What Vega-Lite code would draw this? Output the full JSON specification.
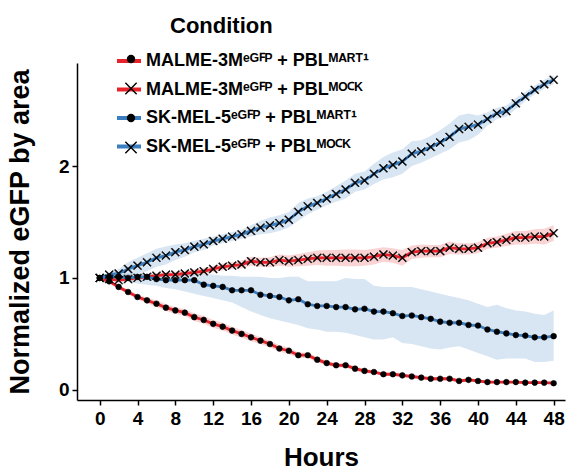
{
  "$schema": "https://vega.github.io/schema/vega-lite/v6.json",
  "width": 488,
  "height": 337,
  "autosize": {"type": "none"},
  "padding": {"left": 77, "top": 63, "right": 8, "bottom": 70},
  "background": "white",
  "config": {
    "font": "Liberation Sans",
    "view": {"stroke": null},
    "axis": {
      "domainColor": "black", "domainWidth": 1.5, "tickColor": "black", "tickWidth": 1.5, "tickSize": 5,
      "labelFont": "Liberation Sans", "labelFontWeight": "bold", "labelFontSize": 19, "labelColor": "black",
      "titleFont": "Liberation Sans", "titleFontWeight": "bold", "titleFontSize": 26, "titleColor": "black",
      "grid": false
    }
  },
  "datasets": {
    "conds": [
      {"id": "A", "g": "malme-mart1", "c": "MALME-3M\u1d49\u1d33\ua7f3\u1d3e + PBL\u1d39\u1d2c\u1d3f\u1d40\u00b9"},
      {"id": "B", "g": "malme-mock", "c": "MALME-3M\u1d49\u1d33\ua7f3\u1d3e + PBL\u1d39\u1d3c\ua7f2\u1d37"},
      {"id": "C", "g": "skmel-mart1", "c": "SK-MEL-5\u1d49\u1d33\ua7f3\u1d3e + PBL\u1d39\u1d2c\u1d3f\u1d40\u00b9"},
      {"id": "D", "g": "skmel-mock", "c": "SK-MEL-5\u1d49\u1d33\ua7f3\u1d3e + PBL\u1d39\u1d3c\ua7f2\u1d37"}
    ],
    "series": [
      {"id":"A","h":0,"v":1,"lo":1,"hi":1},
      {"id":"A","h":1,"v":0.97,"lo":0.96,"hi":0.98},
      {"id":"A","h":2,"v":0.92,"lo":0.9,"hi":0.94},
      {"id":"A","h":3,"v":0.875,"lo":0.855,"hi":0.895},
      {"id":"A","h":4,"v":0.83,"lo":0.81,"hi":0.85},
      {"id":"A","h":5,"v":0.8,"lo":0.775,"hi":0.825},
      {"id":"A","h":6,"v":0.77,"lo":0.74,"hi":0.8},
      {"id":"A","h":7,"v":0.735,"lo":0.705,"hi":0.765},
      {"id":"A","h":8,"v":0.71,"lo":0.68,"hi":0.74},
      {"id":"A","h":9,"v":0.69,"lo":0.66,"hi":0.72},
      {"id":"A","h":10,"v":0.65,"lo":0.615,"hi":0.685},
      {"id":"A","h":11,"v":0.625,"lo":0.59,"hi":0.66},
      {"id":"A","h":12,"v":0.59,"lo":0.555,"hi":0.625},
      {"id":"A","h":13,"v":0.565,"lo":0.53,"hi":0.6},
      {"id":"A","h":14,"v":0.53,"lo":0.495,"hi":0.565},
      {"id":"A","h":15,"v":0.5,"lo":0.465,"hi":0.535},
      {"id":"A","h":16,"v":0.47,"lo":0.435,"hi":0.505},
      {"id":"A","h":17,"v":0.44,"lo":0.41,"hi":0.47},
      {"id":"A","h":18,"v":0.41,"lo":0.38,"hi":0.44},
      {"id":"A","h":19,"v":0.37,"lo":0.34,"hi":0.4},
      {"id":"A","h":20,"v":0.35,"lo":0.32,"hi":0.38},
      {"id":"A","h":21,"v":0.31,"lo":0.285,"hi":0.335},
      {"id":"A","h":22,"v":0.31,"lo":0.285,"hi":0.335},
      {"id":"A","h":23,"v":0.27,"lo":0.245,"hi":0.295},
      {"id":"A","h":24,"v":0.24,"lo":0.22,"hi":0.26},
      {"id":"A","h":25,"v":0.22,"lo":0.2,"hi":0.24},
      {"id":"A","h":26,"v":0.22,"lo":0.2,"hi":0.24},
      {"id":"A","h":27,"v":0.19,"lo":0.17,"hi":0.21},
      {"id":"A","h":28,"v":0.17,"lo":0.15,"hi":0.19},
      {"id":"A","h":29,"v":0.16,"lo":0.145,"hi":0.175},
      {"id":"A","h":30,"v":0.14,"lo":0.125,"hi":0.155},
      {"id":"A","h":31,"v":0.14,"lo":0.125,"hi":0.155},
      {"id":"A","h":32,"v":0.13,"lo":0.115,"hi":0.145},
      {"id":"A","h":33,"v":0.12,"lo":0.105,"hi":0.135},
      {"id":"A","h":34,"v":0.11,"lo":0.095,"hi":0.125},
      {"id":"A","h":35,"v":0.1,"lo":0.085,"hi":0.115},
      {"id":"A","h":36,"v":0.1,"lo":0.085,"hi":0.115},
      {"id":"A","h":37,"v":0.1,"lo":0.085,"hi":0.115},
      {"id":"A","h":38,"v":0.08,"lo":0.065,"hi":0.095},
      {"id":"A","h":39,"v":0.09,"lo":0.075,"hi":0.105},
      {"id":"A","h":40,"v":0.08,"lo":0.065,"hi":0.095},
      {"id":"A","h":41,"v":0.07,"lo":0.06,"hi":0.08},
      {"id":"A","h":42,"v":0.07,"lo":0.06,"hi":0.08},
      {"id":"A","h":43,"v":0.07,"lo":0.06,"hi":0.08},
      {"id":"A","h":44,"v":0.07,"lo":0.06,"hi":0.08},
      {"id":"A","h":45,"v":0.065,"lo":0.055,"hi":0.075},
      {"id":"A","h":46,"v":0.065,"lo":0.055,"hi":0.075},
      {"id":"A","h":47,"v":0.065,"lo":0.055,"hi":0.075},
      {"id":"A","h":48,"v":0.06,"lo":0.05,"hi":0.07},
      {"id":"B","h":0,"v":1,"lo":1,"hi":1},
      {"id":"B","h":1,"v":0.99,"lo":0.975,"hi":1.005},
      {"id":"B","h":2,"v":0.98,"lo":0.96,"hi":1.0},
      {"id":"B","h":3,"v":0.99,"lo":0.97,"hi":1.01},
      {"id":"B","h":4,"v":1.0,"lo":0.98,"hi":1.02},
      {"id":"B","h":5,"v":1.01,"lo":0.99,"hi":1.03},
      {"id":"B","h":6,"v":1.02,"lo":1.0,"hi":1.04},
      {"id":"B","h":7,"v":1.03,"lo":1.01,"hi":1.05},
      {"id":"B","h":8,"v":1.03,"lo":1.005,"hi":1.055},
      {"id":"B","h":9,"v":1.04,"lo":1.015,"hi":1.065},
      {"id":"B","h":10,"v":1.05,"lo":1.025,"hi":1.075},
      {"id":"B","h":11,"v":1.06,"lo":1.03,"hi":1.09},
      {"id":"B","h":12,"v":1.08,"lo":1.05,"hi":1.11},
      {"id":"B","h":13,"v":1.1,"lo":1.07,"hi":1.13},
      {"id":"B","h":14,"v":1.11,"lo":1.08,"hi":1.14},
      {"id":"B","h":15,"v":1.12,"lo":1.085,"hi":1.155},
      {"id":"B","h":16,"v":1.15,"lo":1.11,"hi":1.19},
      {"id":"B","h":17,"v":1.14,"lo":1.1,"hi":1.18},
      {"id":"B","h":18,"v":1.14,"lo":1.095,"hi":1.185},
      {"id":"B","h":19,"v":1.16,"lo":1.11,"hi":1.21},
      {"id":"B","h":20,"v":1.15,"lo":1.1,"hi":1.2},
      {"id":"B","h":21,"v":1.16,"lo":1.105,"hi":1.215},
      {"id":"B","h":22,"v":1.17,"lo":1.11,"hi":1.23},
      {"id":"B","h":23,"v":1.18,"lo":1.115,"hi":1.245},
      {"id":"B","h":24,"v":1.18,"lo":1.11,"hi":1.25},
      {"id":"B","h":25,"v":1.18,"lo":1.11,"hi":1.25},
      {"id":"B","h":26,"v":1.18,"lo":1.105,"hi":1.255},
      {"id":"B","h":27,"v":1.18,"lo":1.105,"hi":1.255},
      {"id":"B","h":28,"v":1.18,"lo":1.11,"hi":1.25},
      {"id":"B","h":29,"v":1.19,"lo":1.12,"hi":1.26},
      {"id":"B","h":30,"v":1.21,"lo":1.145,"hi":1.275},
      {"id":"B","h":31,"v":1.2,"lo":1.135,"hi":1.265},
      {"id":"B","h":32,"v":1.18,"lo":1.11,"hi":1.25},
      {"id":"B","h":33,"v":1.23,"lo":1.17,"hi":1.29},
      {"id":"B","h":34,"v":1.24,"lo":1.18,"hi":1.3},
      {"id":"B","h":35,"v":1.24,"lo":1.185,"hi":1.295},
      {"id":"B","h":36,"v":1.24,"lo":1.185,"hi":1.295},
      {"id":"B","h":37,"v":1.27,"lo":1.215,"hi":1.325},
      {"id":"B","h":38,"v":1.26,"lo":1.21,"hi":1.31},
      {"id":"B","h":39,"v":1.26,"lo":1.21,"hi":1.31},
      {"id":"B","h":40,"v":1.27,"lo":1.22,"hi":1.32},
      {"id":"B","h":41,"v":1.31,"lo":1.26,"hi":1.36},
      {"id":"B","h":42,"v":1.32,"lo":1.27,"hi":1.37},
      {"id":"B","h":43,"v":1.34,"lo":1.285,"hi":1.395},
      {"id":"B","h":44,"v":1.36,"lo":1.3,"hi":1.42},
      {"id":"B","h":45,"v":1.36,"lo":1.3,"hi":1.42},
      {"id":"B","h":46,"v":1.37,"lo":1.305,"hi":1.435},
      {"id":"B","h":47,"v":1.37,"lo":1.3,"hi":1.44},
      {"id":"B","h":48,"v":1.4,"lo":1.33,"hi":1.47},
      {"id":"C","h":0,"v":1,"lo":1,"hi":1},
      {"id":"C","h":1,"v":1.01,"lo":0.99,"hi":1.02},
      {"id":"C","h":2,"v":1.01,"lo":0.98,"hi":1.03},
      {"id":"C","h":3,"v":1.0,"lo":0.97,"hi":1.04},
      {"id":"C","h":4,"v":1.01,"lo":0.95,"hi":1.04},
      {"id":"C","h":5,"v":1.01,"lo":0.94,"hi":1.04},
      {"id":"C","h":6,"v":0.99,"lo":0.93,"hi":1.04},
      {"id":"C","h":7,"v":0.98,"lo":0.91,"hi":1.04},
      {"id":"C","h":8,"v":0.98,"lo":0.9,"hi":1.04},
      {"id":"C","h":9,"v":0.98,"lo":0.88,"hi":1.04},
      {"id":"C","h":10,"v":0.98,"lo":0.86,"hi":1.04},
      {"id":"C","h":11,"v":0.94,"lo":0.84,"hi":1.03},
      {"id":"C","h":12,"v":0.93,"lo":0.82,"hi":1.03},
      {"id":"C","h":13,"v":0.92,"lo":0.8,"hi":1.02},
      {"id":"C","h":14,"v":0.89,"lo":0.78,"hi":1.02},
      {"id":"C","h":15,"v":0.89,"lo":0.74,"hi":1.01},
      {"id":"C","h":16,"v":0.89,"lo":0.7,"hi":1.01},
      {"id":"C","h":17,"v":0.85,"lo":0.67,"hi":1.01},
      {"id":"C","h":18,"v":0.84,"lo":0.64,"hi":1.0},
      {"id":"C","h":19,"v":0.83,"lo":0.62,"hi":1.0},
      {"id":"C","h":20,"v":0.8,"lo":0.6,"hi":1.01},
      {"id":"C","h":21,"v":0.81,"lo":0.58,"hi":1.01},
      {"id":"C","h":22,"v":0.765,"lo":0.55,"hi":0.97},
      {"id":"C","h":23,"v":0.75,"lo":0.54,"hi":0.97},
      {"id":"C","h":24,"v":0.75,"lo":0.52,"hi":0.97},
      {"id":"C","h":25,"v":0.74,"lo":0.52,"hi":0.97},
      {"id":"C","h":26,"v":0.74,"lo":0.51,"hi":1.0},
      {"id":"C","h":27,"v":0.72,"lo":0.49,"hi":0.99},
      {"id":"C","h":28,"v":0.725,"lo":0.47,"hi":0.99},
      {"id":"C","h":29,"v":0.7,"lo":0.45,"hi":0.93},
      {"id":"C","h":30,"v":0.7,"lo":0.45,"hi":0.92},
      {"id":"C","h":31,"v":0.685,"lo":0.47,"hi":0.92},
      {"id":"C","h":32,"v":0.66,"lo":0.42,"hi":0.92},
      {"id":"C","h":33,"v":0.665,"lo":0.41,"hi":0.92},
      {"id":"C","h":34,"v":0.65,"lo":0.39,"hi":0.9},
      {"id":"C","h":35,"v":0.635,"lo":0.37,"hi":0.88},
      {"id":"C","h":36,"v":0.61,"lo":0.36,"hi":0.86},
      {"id":"C","h":37,"v":0.6,"lo":0.38,"hi":0.84},
      {"id":"C","h":38,"v":0.6,"lo":0.39,"hi":0.82},
      {"id":"C","h":39,"v":0.58,"lo":0.36,"hi":0.8},
      {"id":"C","h":40,"v":0.575,"lo":0.33,"hi":0.77},
      {"id":"C","h":41,"v":0.54,"lo":0.3,"hi":0.74},
      {"id":"C","h":42,"v":0.52,"lo":0.27,"hi":0.76},
      {"id":"C","h":43,"v":0.505,"lo":0.28,"hi":0.73},
      {"id":"C","h":44,"v":0.49,"lo":0.28,"hi":0.71},
      {"id":"C","h":45,"v":0.485,"lo":0.28,"hi":0.7},
      {"id":"C","h":46,"v":0.47,"lo":0.25,"hi":0.68},
      {"id":"C","h":47,"v":0.47,"lo":0.25,"hi":0.67},
      {"id":"C","h":48,"v":0.48,"lo":0.26,"hi":0.71},
      {"id":"D","h":0,"v":1,"lo":1,"hi":1},
      {"id":"D","h":1,"v":1.03,"lo":1.01,"hi":1.05},
      {"id":"D","h":2,"v":1.04,"lo":1.0,"hi":1.08},
      {"id":"D","h":3,"v":1.08,"lo":1.02,"hi":1.14},
      {"id":"D","h":4,"v":1.11,"lo":1.04,"hi":1.18},
      {"id":"D","h":5,"v":1.14,"lo":1.06,"hi":1.22},
      {"id":"D","h":6,"v":1.18,"lo":1.1,"hi":1.26},
      {"id":"D","h":7,"v":1.2,"lo":1.12,"hi":1.28},
      {"id":"D","h":8,"v":1.23,"lo":1.16,"hi":1.3},
      {"id":"D","h":9,"v":1.25,"lo":1.19,"hi":1.31},
      {"id":"D","h":10,"v":1.28,"lo":1.23,"hi":1.33},
      {"id":"D","h":11,"v":1.3,"lo":1.25,"hi":1.35},
      {"id":"D","h":12,"v":1.33,"lo":1.29,"hi":1.37},
      {"id":"D","h":13,"v":1.35,"lo":1.31,"hi":1.39},
      {"id":"D","h":14,"v":1.37,"lo":1.33,"hi":1.41},
      {"id":"D","h":15,"v":1.39,"lo":1.35,"hi":1.43},
      {"id":"D","h":16,"v":1.42,"lo":1.37,"hi":1.47},
      {"id":"D","h":17,"v":1.45,"lo":1.39,"hi":1.51},
      {"id":"D","h":18,"v":1.47,"lo":1.4,"hi":1.54},
      {"id":"D","h":19,"v":1.49,"lo":1.42,"hi":1.56},
      {"id":"D","h":20,"v":1.52,"lo":1.45,"hi":1.59},
      {"id":"D","h":21,"v":1.59,"lo":1.51,"hi":1.67},
      {"id":"D","h":22,"v":1.64,"lo":1.57,"hi":1.71},
      {"id":"D","h":23,"v":1.67,"lo":1.61,"hi":1.73},
      {"id":"D","h":24,"v":1.71,"lo":1.65,"hi":1.77},
      {"id":"D","h":25,"v":1.75,"lo":1.68,"hi":1.82},
      {"id":"D","h":26,"v":1.79,"lo":1.71,"hi":1.87},
      {"id":"D","h":27,"v":1.85,"lo":1.77,"hi":1.93},
      {"id":"D","h":28,"v":1.87,"lo":1.79,"hi":1.95},
      {"id":"D","h":29,"v":1.93,"lo":1.84,"hi":2.02},
      {"id":"D","h":30,"v":1.98,"lo":1.88,"hi":2.08},
      {"id":"D","h":31,"v":2.01,"lo":1.9,"hi":2.12},
      {"id":"D","h":32,"v":2.04,"lo":1.93,"hi":2.15},
      {"id":"D","h":33,"v":2.11,"lo":2.0,"hi":2.22},
      {"id":"D","h":34,"v":2.13,"lo":2.03,"hi":2.23},
      {"id":"D","h":35,"v":2.17,"lo":2.07,"hi":2.27},
      {"id":"D","h":36,"v":2.21,"lo":2.11,"hi":2.32},
      {"id":"D","h":37,"v":2.26,"lo":2.15,"hi":2.38},
      {"id":"D","h":38,"v":2.33,"lo":2.21,"hi":2.45},
      {"id":"D","h":39,"v":2.35,"lo":2.23,"hi":2.47},
      {"id":"D","h":40,"v":2.37,"lo":2.28,"hi":2.45},
      {"id":"D","h":41,"v":2.42,"lo":2.36,"hi":2.48},
      {"id":"D","h":42,"v":2.47,"lo":2.42,"hi":2.52},
      {"id":"D","h":43,"v":2.49,"lo":2.44,"hi":2.54},
      {"id":"D","h":44,"v":2.56,"lo":2.51,"hi":2.61},
      {"id":"D","h":45,"v":2.62,"lo":2.58,"hi":2.66},
      {"id":"D","h":46,"v":2.68,"lo":2.64,"hi":2.72},
      {"id":"D","h":47,"v":2.73,"lo":2.69,"hi":2.77},
      {"id":"D","h":48,"v":2.77,"lo":2.73,"hi":2.81}
    ]
  },
  "data": {"name": "series"},
  "transform": [
    {"lookup": "id", "from": {"data": {"name": "conds"}, "key": "id", "fields": ["c", "g"]}}
  ],
  "encoding": {
    "x": {
      "field": "h", "type": "quantitative", "title": "Hours",
      "scale": {"domain": [-2.4, 49.2], "nice": false, "zero": false},
      "axis": {"values": [0,4,8,12,16,20,24,28,32,36,40,44,48], "labelPadding": 4, "titlePadding": 16}
    }
  },
  "layer": [
    {
      "mark": {"type": "area", "opacity": 0.2},
      "encoding": {
        "y": {"field": "lo", "type": "quantitative", "title": "Normalized eGFP by area",
              "scale": {"domain": [-0.09, 2.92], "nice": false, "zero": false},
              "axis": {"values": [0, 1, 2], "labelPadding": 3, "titlePadding": 24, "titleFontSize": 27}},
        "y2": {"field": "hi"},
        "fill": {"field": "g", "type": "nominal", "legend": null,
                 "scale": {"domain": ["malme-mart1", "malme-mock", "skmel-mart1", "skmel-mock"],
                   "range": ["#E8222A", "#E8222A", "#3A7EBF", "#3A7EBF"]}}
      }
    },
    {
      "mark": {"type": "line", "strokeWidth": 2.8},
      "encoding": {
        "y": {"field": "v", "type": "quantitative", "title": "Normalized eGFP by area",
              "scale": {"domain": [-0.09, 2.92], "nice": false, "zero": false},
              "axis": {"values": [0, 1, 2], "labelPadding": 3, "titlePadding": 24, "titleFontSize": 27}},
        "color": {"field": "c", "type": "nominal",
                  "scale": {"domain": [
                    "MALME-3M\u1d49\u1d33\ua7f3\u1d3e + PBL\u1d39\u1d2c\u1d3f\u1d40\u00b9",
                    "MALME-3M\u1d49\u1d33\ua7f3\u1d3e + PBL\u1d39\u1d3c\ua7f2\u1d37",
                    "SK-MEL-5\u1d49\u1d33\ua7f3\u1d3e + PBL\u1d39\u1d2c\u1d3f\u1d40\u00b9",
                    "SK-MEL-5\u1d49\u1d33\ua7f3\u1d3e + PBL\u1d39\u1d3c\ua7f2\u1d37"],
                    "range": ["#E8222A", "#E8222A", "#3A7EBF", "#3A7EBF"]},
                  "legend": {"orient": "none", "legendX": 38, "legendY": -16, "title": null,
                             "labelFont": "Liberation Sans", "labelFontSize": 18, "labelFontWeight": "bold", "labelColor": "black", "labelLimit": 400, "labelOffset": 3,
                             "symbolType": "stroke", "symbolSize": 576, "symbolStrokeWidth": 4, "rowPadding": 5.5}}
      }
    },
    {
      "mark": {"type": "point", "filled": true, "fill": "black", "stroke": "black", "strokeWidth": 0.6, "size": 32, "opacity": 1},
      "encoding": {
        "y": {"field": "v", "type": "quantitative", "title": "Normalized eGFP by area",
              "scale": {"domain": [-0.09, 2.92], "nice": false, "zero": false},
              "axis": {"values": [0, 1, 2], "labelPadding": 3, "titlePadding": 24, "titleFontSize": 27}},
        "shape": {"field": "id", "type": "nominal",
                  "scale": {"domain": ["A", "B", "C", "D"],
                    "range": ["circle",
                              "M-1.23,-1.47L1.47,1.23L1.23,1.47L-1.47,-1.23ZM-1.47,1.23L1.23,-1.47L1.47,-1.23L-1.23,1.47Z",
                              "circle",
                              "M-1.23,-1.47L1.47,1.23L1.23,1.47L-1.47,-1.23ZM-1.47,1.23L1.23,-1.47L1.47,-1.23L-1.23,1.47Z"]},
                  "legend": {"orient": "none", "legendX": 93, "legendY": -47, "title": "Condition",
                             "titleFont": "Liberation Sans", "titleFontSize": 22, "titleFontWeight": "bold", "titleColor": "black",
                             "titleAnchor": "start", "titlePadding": 9,
                             "labelFont": "Liberation Sans", "labelFontSize": 24, "labelExpr": "''",
                             "symbolSize": 70, "symbolFillColor": "black", "symbolStrokeColor": "black", "symbolStrokeWidth": 0.8,
                             "symbolOffset": -51, "rowPadding": 5.5}}
      }
    }
  ]
}
